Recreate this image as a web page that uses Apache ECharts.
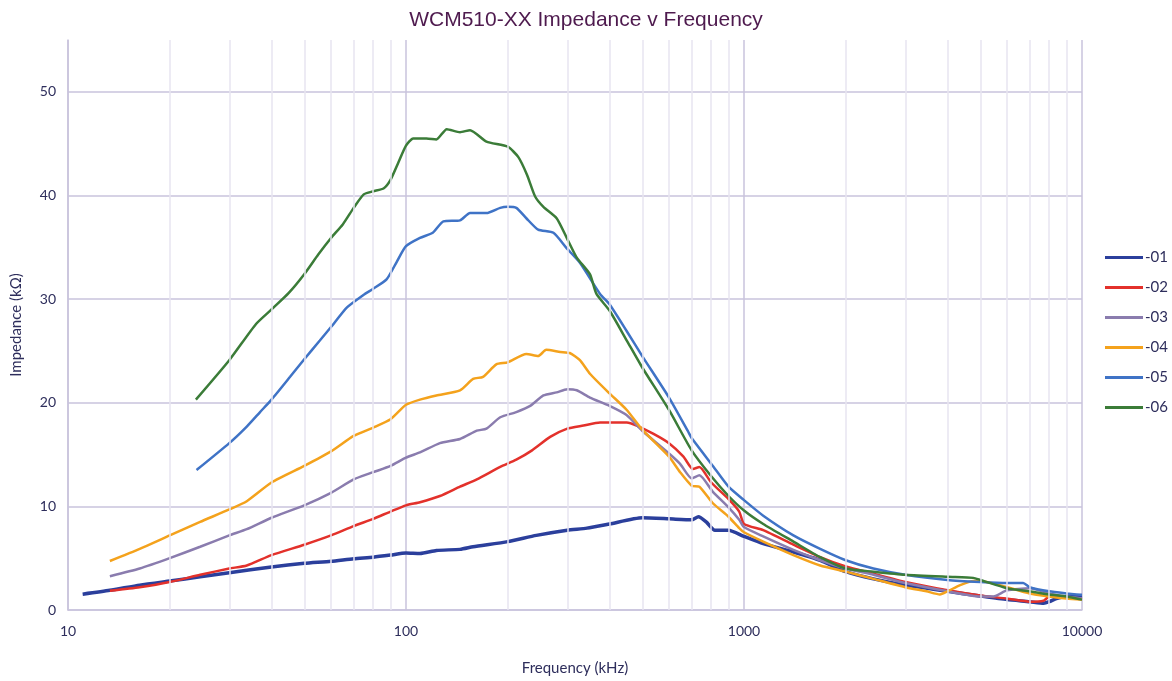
<!DOCTYPE html>
<html>
<head>
<meta charset="utf-8">
<title>WCM510-XX Impedance v Frequency</title>
<script src="https://cdn.jsdelivr.net/npm/echarts@6/dist/echarts.min.js"></script>
<style>
  html, body { margin: 0; padding: 0; background: #fff; }
  #chart { width: 1172px; height: 681px; }
</style>
</head>
<body>
<div id="chart"></div>
<script>
// frequency (kHz) / impedance (kOhm) pairs
const f01 = [11.05, 13.3, 16.3, 20, 24.6, 30, 40, 50, 60, 70, 80, 90, 100, 110, 123, 144.5, 158, 200, 243, 300, 343, 400, 500, 600, 700, 733, 773, 820, 900, 1000, 1140, 1400, 1680, 2000, 2415, 3000, 4000, 5000, 6000, 7000, 7700, 8000, 8400, 9000, 10000];
const z01 = [1.53, 1.9, 2.4, 2.8, 3.2, 3.6, 4.15, 4.5, 4.7, 4.95, 5.1, 5.3, 5.5, 5.45, 5.75, 5.85, 6.1, 6.6, 7.2, 7.7, 7.9, 8.3, 8.9, 8.8, 8.7, 9.0, 8.5, 7.7, 7.7, 7.1, 6.4, 5.6, 4.8, 3.7, 3.0, 2.4, 1.8, 1.35, 1.0, 0.8, 0.65, 0.8, 1.1, 1.3, 1.4];

const f02 = [13.3, 16.3, 20, 24.6, 30, 33.8, 40, 50, 60, 70, 80, 90, 100, 110, 126, 144.5, 162, 190, 212, 236, 267, 300, 335, 375, 450, 481, 540, 600, 662, 706, 738, 800, 900, 968, 1000, 1140, 1400, 1680, 2000, 2415, 3000, 4000, 5000, 6000, 7000, 7700, 8000, 9000, 10000];
const z02 = [1.85, 2.2, 2.7, 3.4, 4.0, 4.3, 5.3, 6.3, 7.2, 8.1, 8.8, 9.5, 10.1, 10.4, 11.0, 11.9, 12.6, 13.8, 14.5, 15.4, 16.7, 17.5, 17.8, 18.1, 18.1, 17.8, 17.0, 16.1, 14.8, 13.6, 13.8, 12.3, 10.7, 9.5, 8.3, 7.7, 6.3, 5.1, 4.2, 3.5, 2.7, 1.9, 1.4, 1.1, 0.8, 0.9, 1.3, 1.2, 1.1];

const f03 = [13.3, 16.3, 20, 24.6, 30, 33.8, 40, 50, 60, 70, 80, 90, 100, 110, 126, 144.5, 162, 173, 190, 212, 233, 255, 279, 300, 320, 350, 400, 450, 500, 600, 647, 700, 738, 809, 900, 968, 1000, 1140, 1400, 1680, 2000, 2415, 3000, 4000, 5000, 5470, 6000, 7000, 8000, 9000, 10000];
const z03 = [3.26, 4.0, 5.0, 6.1, 7.2, 7.8, 8.9, 10.1, 11.3, 12.6, 13.3, 13.9, 14.7, 15.2, 16.1, 16.5, 17.3, 17.5, 18.6, 19.1, 19.7, 20.7, 21.0, 21.3, 21.2, 20.5, 19.7, 18.8, 17.3, 15.1, 14.1, 12.7, 13.0, 11.4, 9.9, 8.7, 8.0, 7.1, 5.8, 4.8, 4.0, 3.4, 2.6, 1.8, 1.3, 1.3, 1.9, 2.1, 1.6, 1.3, 1.1];

const f04 = [13.3, 16.3, 20, 24.6, 30, 33.8, 40, 50, 60, 70, 80, 90, 100, 110, 123, 144.5, 158, 169, 185, 200, 227, 246, 260, 286, 305, 327, 350, 400, 450, 500, 600, 647, 700, 738, 809, 900, 968, 1000, 1140, 1400, 1680, 2000, 2415, 3000, 3466, 3800, 4000, 4360, 4770, 5000, 5716, 7000, 8000, 9000, 10000];
const z04 = [4.73, 5.9, 7.2, 8.5, 9.7, 10.5, 12.3, 13.9, 15.3, 16.8, 17.6, 18.4, 19.8, 20.3, 20.7, 21.2, 22.3, 22.5, 23.7, 23.9, 24.7, 24.5, 25.1, 24.9, 24.8, 24.1, 22.8, 20.9, 19.3, 17.4, 14.8, 13.3, 12.0, 11.9, 10.3, 9.0, 7.9, 7.5, 6.6, 5.3, 4.3, 3.7, 3.0, 2.2, 1.8, 1.5, 1.8, 2.4, 2.8, 2.8, 2.4, 1.6, 1.3, 1.1, 1.0];

const f05 = [24, 30, 33.8, 37, 40, 45.4, 50, 55.6, 60, 66.9, 74.8, 80, 87.6, 93.9, 100, 110, 120, 129, 144.5, 154.7, 173, 190, 200, 212, 227, 246, 273, 299, 327, 375, 400, 450, 500, 600, 684, 700, 809, 900, 1000, 1140, 1400, 1680, 2000, 2415, 3000, 4000, 5000, 6000, 6700, 7000, 8000, 9000, 10000];
const z05 = [13.5, 16.1, 17.7, 19.1, 20.3, 22.5, 24.2, 26.0, 27.3, 29.2, 30.4, 31.0, 31.9, 33.6, 35.1, 35.9, 36.4, 37.5, 37.6, 38.3, 38.3, 38.8, 38.9, 38.8, 37.8, 36.7, 36.4, 34.9, 33.5, 30.5, 29.5, 26.9, 24.5, 20.5, 17.2, 16.6, 13.9, 11.9, 10.6, 9.1, 7.2, 5.9, 4.8, 4.0, 3.4, 2.9, 2.7, 2.6, 2.6, 2.2, 1.8, 1.6, 1.45];

const f06 = [23.9, 30, 36, 40, 45, 50, 55, 60, 65, 70, 75, 80, 86, 90, 95, 100, 105, 115, 123, 132, 144.5, 154.7, 173, 200, 215, 228, 241, 255, 279, 299, 320, 350, 366, 400, 450, 500, 600, 700, 800, 900, 1000, 1140, 1400, 1680, 2000, 2415, 3000, 4000, 4770, 5000, 6000, 7000, 8000, 9000, 10000];
const z06 = [20.3, 24.1, 27.6, 29.0, 30.6, 32.4, 34.3, 35.9, 37.2, 38.8, 40.1, 40.4, 40.7, 41.5, 43.2, 44.8, 45.5, 45.5, 45.4, 46.4, 46.1, 46.3, 45.2, 44.7, 43.7, 42.0, 39.9, 38.9, 37.8, 35.9, 34.0, 32.4, 30.5, 28.9, 26.0, 23.4, 19.3, 15.4, 12.9, 11.0, 9.6, 8.3, 6.6, 5.1, 4.0, 3.7, 3.4, 3.2, 3.1, 2.9, 2.1, 1.8, 1.5, 1.3, 1.0];

const seriesNames = ['-01', '-02', '-03', '-04', '-05', '-06'];
const seriesColors = ['#2b3f9c', '#e3312b', '#8a7cae', '#f4a21c', '#3f73c6', '#3b7c38'];
const seriesWidths = [3.5, 2.5, 2.5, 2.5, 2.5, 2.5];
const freqs = [f01, f02, f03, f04, f05, f06];
const imps = [z01, z02, z03, z04, z05, z06];

// minor log gridlines (2..9 within each decade)
const minorFreqs = [20, 30, 40, 50, 60, 70, 80, 90, 200, 300, 400, 500, 600, 700, 800, 900, 2000, 3000, 4000, 5000, 6000, 7000, 8000, 9000];

const labelColor = '#2e2e5c';
const majorGrid = '#c9c3dd';

const chart = echarts.init(document.getElementById('chart'));

const lineSeries = seriesNames.map((name, i) => ({
    name,
    type: 'line',
    data: freqs[i].map((f, idx) => [f, imps[i][idx]]),
    symbol: 'none',
    smooth: 0.2,
    z: 3,
    lineStyle: {
        color: seriesColors[i],
        width: seriesWidths[i],
    },
    itemStyle: { color: seriesColors[i] },
}));

chart.setOption({
    animation: false,
    title: {
        text: 'WCM510-XX Impedance v Frequency',
        left: 'center',
        top: 5,
        textStyle: {
            fontFamily: 'Liberation Sans',
            fontSize: 21,
            fontWeight: 'normal',
            color: '#4e1a4e',
        },
    },
    grid: {
        left: 68,
        right: 90,
        top: 40,
        bottom: 66,
    },
    legend: {
        orient: 'vertical',
        left: 1100,
        top: 245,
        itemWidth: 38,
        itemHeight: 3,
        itemGap: 15,
        icon: 'rect',
        data: seriesNames.map((name, i) => ({
            name,
            itemStyle: { color: seriesColors[i] },
        })),
        textStyle: {
            fontFamily: 'Lato',
            fontSize: 15,
            color: labelColor,
            padding: [0, 0, 0, -3],
        },
    },
    xAxis: {
        type: 'log',
        logBase: 10,
        min: 10,
        max: 10000,
        name: 'Frequency (kHz)',
        nameLocation: 'middle',
        nameGap: 51,
        nameTextStyle: { fontFamily: 'Lato', fontSize: 15, color: labelColor },
        axisLine: { show: true, lineStyle: { color: majorGrid, width: 1.5 } },
        axisTick: { show: false },
        axisLabel: {
            margin: 14,
            fontFamily: 'Lato',
            fontSize: 14,
            color: labelColor,
            formatter: v => String(Math.round(v)),
        },
        splitLine: { show: true, lineStyle: { color: majorGrid, width: 1.5 } },
    },
    yAxis: {
        type: 'value',
        min: 0,
        max: 55,
        interval: 10,
        name: 'Impedance (kΩ)',
        nameLocation: 'middle',
        nameGap: 44,
        nameTextStyle: { fontFamily: 'Lato', fontSize: 15, color: labelColor },
        axisLine: { show: true, lineStyle: { color: majorGrid, width: 1.5 } },
        axisTick: { show: false },
        axisLabel: {
            margin: 12,
            fontFamily: 'Lato',
            fontSize: 14,
            color: labelColor,
            formatter: v => (v % 10 === 0 ? String(v) : ''),
        },
        splitLine: {
            show: true,
            // last entry hides the line at the 55 extent
            lineStyle: {
                color: [majorGrid, majorGrid, majorGrid, majorGrid, majorGrid, majorGrid, 'rgba(0,0,0,0)'],
                width: 1.5,
            },
        },
    },
    series: [
        {
            name: 'minor-grid',
            type: 'line',
            data: [],
            z: 1,
            silent: true,
            markLine: {
                silent: true,
                symbol: 'none',
                label: { show: false },
                lineStyle: { color: '#e7e4f0', width: 1.5, type: 'solid' },
                data: minorFreqs.map(f => ({ xAxis: f })),
            },
        },
        ...lineSeries,
    ],
});
</script>
</body>
</html>
